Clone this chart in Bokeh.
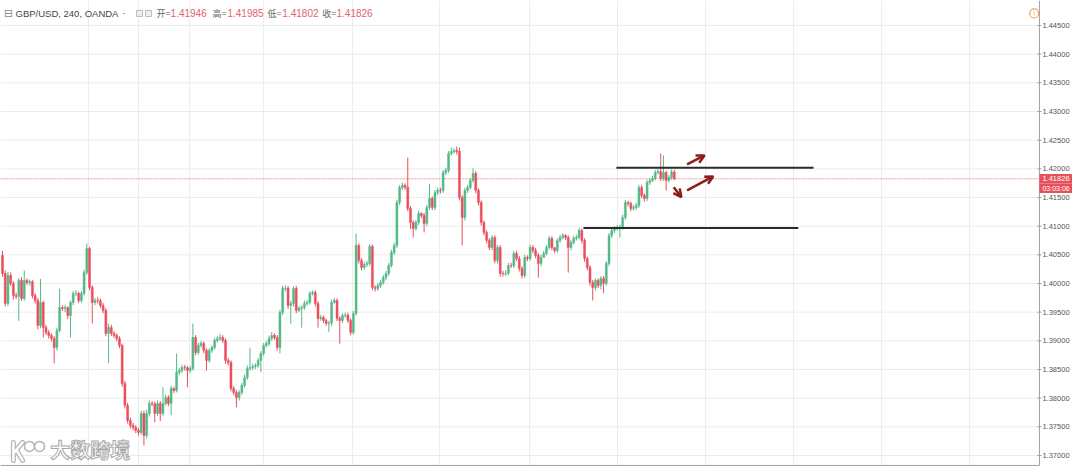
import numpy as np
from bokeh.plotting import figure
from bokeh.models import Range1d, Arrow, OpenHead, ColumnDataSource
from bokeh.core.properties import value
from bokeh.embed import file_html
from bokeh.resources import INLINE

SYMBOL = "GBP/USD, 240, OANDA"
COUNTDOWN = "03:03:06"
WATERMARK = "大数跨境"
OHLC_NAMES = ["开=", "高=", "低=", "收="]

CLOSE = [
    1.40175, 1.39652, 1.40140, 1.40001, 1.39791, 1.39774, 1.40053, 1.39739, 1.40053, 1.40018,
    1.40030, 1.39791, 1.39704, 1.39268, 1.39669, 1.39233, 1.39146, 1.39094, 1.39041, 1.38884,
    1.39181, 1.39582, 1.39565, 1.39580, 1.39442, 1.39669, 1.39826, 1.39830, 1.39704, 1.39826,
    1.40193, 1.40611, 1.39931, 1.39669, 1.39704, 1.39700, 1.39617, 1.39530, 1.39129, 1.39233,
    1.39129, 1.39094, 1.39041, 1.38919, 1.38256, 1.37873, 1.37611, 1.37524, 1.37489, 1.37437,
    1.37402, 1.37733, 1.37349, 1.37733, 1.37908, 1.37900, 1.37733, 1.37908, 1.37733, 1.37908,
    1.38012, 1.37908, 1.38169, 1.38134, 1.38448, 1.38483, 1.38535, 1.38530, 1.38483, 1.38518,
    1.39059, 1.38797, 1.38919, 1.38954, 1.38832, 1.38658, 1.38832, 1.38884, 1.39006, 1.39041,
    1.39059, 1.39006, 1.38658, 1.38623, 1.38169, 1.38099, 1.38012, 1.38099, 1.38222, 1.38361,
    1.38518, 1.38535, 1.38553, 1.38570, 1.38658, 1.38780, 1.38919, 1.38954, 1.39041, 1.39094,
    1.39059, 1.38884, 1.39495, 1.39913, 1.39920, 1.39617, 1.39652, 1.39913, 1.39530, 1.39565,
    1.39582, 1.39652, 1.39669, 1.39826, 1.39844, 1.39652, 1.39390, 1.39408, 1.39355, 1.39303,
    1.39310, 1.39669, 1.39704, 1.39390, 1.39355, 1.39442, 1.39450, 1.39355, 1.39146, 1.39478,
    1.40663, 1.40402, 1.40280, 1.40332, 1.40350, 1.40646, 1.39931, 1.39913, 1.39966, 1.40018,
    1.40105, 1.40175, 1.40315, 1.40541, 1.40663, 1.41413, 1.41675, 1.41710, 1.41680, 1.41309,
    1.41065, 1.40960, 1.41065, 1.41222, 1.41187, 1.41047, 1.41326, 1.41483, 1.41326, 1.41588,
    1.41623, 1.41620, 1.41937, 1.41972, 1.42268, 1.42303, 1.42320, 1.42303, 1.41501, 1.41152,
    1.41623, 1.41675, 1.41797, 1.41919, 1.41623, 1.41413, 1.41065, 1.40890, 1.40751, 1.40629,
    1.40803, 1.40402, 1.40629, 1.40175, 1.40170, 1.40180, 1.40315, 1.40310, 1.40524, 1.40437,
    1.40262, 1.40140, 1.40454, 1.40437, 1.40629, 1.40576, 1.40489, 1.40350, 1.40454, 1.40524,
    1.40629, 1.40786, 1.40629, 1.40576, 1.40751, 1.40803, 1.40838, 1.40803, 1.40629, 1.40716,
    1.40786, 1.40803, 1.40925, 1.40751, 1.40437, 1.40280, 1.40018, 1.39931, 1.40053, 1.39966,
    1.40088, 1.40001, 1.40350, 1.40838, 1.40925, 1.40960, 1.40977, 1.40985, 1.41152, 1.41413,
    1.41396, 1.41309, 1.41326, 1.41361, 1.41675, 1.41536, 1.41483, 1.41762, 1.41797, 1.41832,
    1.41937, 1.41954, 1.41832, 1.41937, 1.41797, 1.41850, 1.41946, 1.41826,
]

OPEN = [
    1.40489, 1.40175, 1.39652, 1.40140, 1.40001, 1.39791, 1.39774, 1.40053, 1.39739, 1.40053,
    1.40018, 1.40030, 1.39791, 1.39704, 1.39268, 1.39669, 1.39233, 1.39146, 1.39094, 1.39041,
    1.38884, 1.39181, 1.39582, 1.39565, 1.39580, 1.39442, 1.39669, 1.39826, 1.39830, 1.39704,
    1.39826, 1.40193, 1.40611, 1.39931, 1.39669, 1.39704, 1.39700, 1.39617, 1.39530, 1.39129,
    1.39233, 1.39129, 1.39094, 1.39041, 1.38919, 1.38256, 1.37873, 1.37611, 1.37524, 1.37489,
    1.37437, 1.37402, 1.37733, 1.37349, 1.37733, 1.37908, 1.37900, 1.37733, 1.37908, 1.37733,
    1.37908, 1.38012, 1.37908, 1.38169, 1.38134, 1.38448, 1.38483, 1.38535, 1.38530, 1.38483,
    1.38518, 1.39059, 1.38797, 1.38919, 1.38954, 1.38832, 1.38658, 1.38832, 1.38884, 1.39006,
    1.39041, 1.39059, 1.39006, 1.38658, 1.38623, 1.38169, 1.38099, 1.38012, 1.38099, 1.38222,
    1.38361, 1.38518, 1.38535, 1.38553, 1.38570, 1.38658, 1.38780, 1.38919, 1.38954, 1.39041,
    1.39094, 1.39059, 1.38884, 1.39495, 1.39913, 1.39920, 1.39617, 1.39652, 1.39913, 1.39530,
    1.39565, 1.39582, 1.39652, 1.39669, 1.39826, 1.39844, 1.39652, 1.39390, 1.39408, 1.39355,
    1.39303, 1.39310, 1.39669, 1.39704, 1.39390, 1.39355, 1.39442, 1.39450, 1.39355, 1.39146,
    1.39478, 1.40663, 1.40402, 1.40280, 1.40332, 1.40350, 1.40646, 1.39931, 1.39913, 1.39966,
    1.40018, 1.40105, 1.40175, 1.40315, 1.40541, 1.40663, 1.41413, 1.41675, 1.41710, 1.41680,
    1.41309, 1.41065, 1.40960, 1.41065, 1.41222, 1.41187, 1.41047, 1.41326, 1.41483, 1.41326,
    1.41588, 1.41623, 1.41620, 1.41937, 1.41972, 1.42268, 1.42303, 1.42320, 1.42303, 1.41501,
    1.41152, 1.41623, 1.41675, 1.41797, 1.41919, 1.41623, 1.41413, 1.41065, 1.40890, 1.40751,
    1.40629, 1.40803, 1.40402, 1.40629, 1.40175, 1.40170, 1.40180, 1.40315, 1.40310, 1.40524,
    1.40437, 1.40262, 1.40140, 1.40454, 1.40437, 1.40629, 1.40576, 1.40489, 1.40350, 1.40454,
    1.40524, 1.40629, 1.40786, 1.40629, 1.40576, 1.40751, 1.40803, 1.40838, 1.40803, 1.40629,
    1.40716, 1.40786, 1.40803, 1.40925, 1.40751, 1.40437, 1.40280, 1.40018, 1.39931, 1.40053,
    1.39966, 1.40088, 1.40001, 1.40350, 1.40838, 1.40925, 1.40960, 1.40977, 1.40985, 1.41152,
    1.41413, 1.41396, 1.41309, 1.41326, 1.41361, 1.41675, 1.41536, 1.41483, 1.41762, 1.41797,
    1.41832, 1.41937, 1.41954, 1.41832, 1.41937, 1.41797, 1.41850, 1.41946,
]

HIGH = [
    1.40570, 1.40230, 1.40200, 1.40190, 1.40040, 1.39840, 1.40090, 1.40110, 1.40230, 1.40090,
    1.40070, 1.40060, 1.39830, 1.39750, 1.40080, 1.39700, 1.39280, 1.39190, 1.39130, 1.39080,
    1.39230, 1.39910, 1.39620, 1.39630, 1.39600, 1.39700, 1.39870, 1.39890, 1.39860, 1.39870,
    1.40240, 1.40698, 1.40640, 1.39970, 1.39750, 1.39760, 1.39740, 1.39660, 1.39570, 1.39300,
    1.39280, 1.39170, 1.39130, 1.39080, 1.38950, 1.38300, 1.37920, 1.37660, 1.37570, 1.37530,
    1.37480, 1.37780, 1.37780, 1.37800, 1.37960, 1.37950, 1.37940, 1.37960, 1.37950, 1.38190,
    1.38060, 1.38050, 1.38220, 1.38200, 1.38780, 1.38530, 1.38580, 1.38580, 1.38560, 1.38560,
    1.39303, 1.39100, 1.38960, 1.39000, 1.38990, 1.38870, 1.38870, 1.38920, 1.39050, 1.39080,
    1.39120, 1.39100, 1.39040, 1.38700, 1.38660, 1.38210, 1.38140, 1.38140, 1.38270, 1.38410,
    1.38570, 1.38880, 1.38600, 1.38610, 1.38700, 1.38820, 1.38960, 1.39000, 1.39090, 1.39150,
    1.39130, 1.39100, 1.39540, 1.39960, 1.39970, 1.39960, 1.39700, 1.39950, 1.39960, 1.39610,
    1.39620, 1.39700, 1.39710, 1.39870, 1.39880, 1.39880, 1.39690, 1.39450, 1.39440, 1.39390,
    1.39350, 1.39720, 1.39750, 1.39740, 1.39430, 1.39480, 1.39490, 1.39490, 1.39390, 1.39520,
    1.40873, 1.40700, 1.40440, 1.40380, 1.40400, 1.40690, 1.40680, 1.39970, 1.40010, 1.40060,
    1.40150, 1.40220, 1.40360, 1.40590, 1.40710, 1.41460, 1.41720, 1.41760, 1.41750, 1.42198,
    1.41350, 1.41100, 1.41110, 1.41270, 1.41240, 1.41230, 1.41370, 1.41740, 1.41520, 1.41630,
    1.41670, 1.41670, 1.41980, 1.42020, 1.42310, 1.42373, 1.42360, 1.42390, 1.42373, 1.41540,
    1.41670, 1.41720, 1.41840, 1.42006, 1.41960, 1.41660, 1.41450, 1.41100, 1.40930, 1.40790,
    1.40840, 1.40840, 1.40670, 1.40670, 1.40220, 1.40230, 1.40360, 1.40360, 1.40570, 1.40570,
    1.40480, 1.40300, 1.40500, 1.40490, 1.40680, 1.40670, 1.40620, 1.40530, 1.40500, 1.40570,
    1.40670, 1.40830, 1.40820, 1.40620, 1.40790, 1.40850, 1.40880, 1.40860, 1.40840, 1.40760,
    1.40830, 1.40850, 1.40970, 1.40960, 1.40790, 1.40470, 1.40320, 1.40060, 1.40090, 1.40090,
    1.40130, 1.40130, 1.40390, 1.40880, 1.40970, 1.41000, 1.41020, 1.41030, 1.41200, 1.41460,
    1.41440, 1.41430, 1.41370, 1.41410, 1.41720, 1.41720, 1.41570, 1.41810, 1.41840, 1.41880,
    1.41980, 1.42000, 1.42268, 1.42233, 1.41970, 1.41890, 1.41990, 1.41985,
]

LOW = [
    1.40120, 1.39600, 1.39610, 1.39960, 1.39720, 1.39730, 1.39350, 1.39700, 1.39700, 1.39980,
    1.39960, 1.39740, 1.39650, 1.39200, 1.39220, 1.39060, 1.39100, 1.39040, 1.38990, 1.38605,
    1.38830, 1.39150, 1.39520, 1.39500, 1.39380, 1.39060, 1.39620, 1.39780, 1.39660, 1.39660,
    1.39790, 1.40150, 1.39880, 1.39300, 1.39620, 1.39650, 1.39570, 1.39480, 1.39080, 1.38610,
    1.39080, 1.39050, 1.38990, 1.38870, 1.38200, 1.37820, 1.37560, 1.37470, 1.37440, 1.37390,
    1.37350, 1.37360, 1.37175, 1.37300, 1.37680, 1.37860, 1.37580, 1.37690, 1.37600, 1.37690,
    1.37870, 1.37860, 1.37700, 1.38090, 1.38100, 1.38400, 1.38440, 1.38480, 1.38190, 1.38440,
    1.38480, 1.38750, 1.38760, 1.38880, 1.38780, 1.38480, 1.38620, 1.38790, 1.38850, 1.38970,
    1.39000, 1.38960, 1.38600, 1.38570, 1.38120, 1.38050, 1.37838, 1.37960, 1.38060, 1.38190,
    1.38320, 1.38480, 1.38490, 1.38510, 1.38530, 1.38450, 1.38740, 1.38880, 1.38910, 1.39000,
    1.39020, 1.38830, 1.38780, 1.39450, 1.39860, 1.39560, 1.39300, 1.39600, 1.39480, 1.39500,
    1.39230, 1.39540, 1.39610, 1.39630, 1.39790, 1.39600, 1.39230, 1.39350, 1.39310, 1.39260,
    1.39150, 1.39260, 1.39650, 1.39340, 1.38950, 1.39310, 1.39400, 1.39310, 1.39100, 1.39110,
    1.39440, 1.40350, 1.40230, 1.40240, 1.40290, 1.40310, 1.39880, 1.39860, 1.39870, 1.39920,
    1.39980, 1.40060, 1.40130, 1.40280, 1.40500, 1.40620, 1.41370, 1.41630, 1.41630, 1.41260,
    1.40950, 1.40800, 1.40920, 1.41020, 1.41140, 1.40890, 1.41000, 1.41280, 1.41280, 1.41280,
    1.41540, 1.41570, 1.41580, 1.41890, 1.41930, 1.42230, 1.42260, 1.42250, 1.41450, 1.40663,
    1.41100, 1.41580, 1.41640, 1.41760, 1.41570, 1.41360, 1.41010, 1.40840, 1.40700, 1.40580,
    1.40580, 1.40350, 1.40350, 1.40120, 1.40120, 1.40130, 1.40140, 1.40270, 1.40270, 1.40390,
    1.40210, 1.40090, 1.40100, 1.40390, 1.40400, 1.40530, 1.40440, 1.40100, 1.40300, 1.40480,
    1.40490, 1.40590, 1.40580, 1.40530, 1.40540, 1.40710, 1.40770, 1.40760, 1.40190, 1.40580,
    1.40680, 1.40750, 1.40770, 1.40700, 1.40380, 1.40230, 1.39960, 1.39704, 1.39880, 1.39920,
    1.39900, 1.39830, 1.39960, 1.40300, 1.40790, 1.40880, 1.40920, 1.40800, 1.40940, 1.41110,
    1.41350, 1.41260, 1.41270, 1.41280, 1.41320, 1.41490, 1.41430, 1.41440, 1.41720, 1.41770,
    1.41800, 1.41900, 1.41790, 1.41790, 1.41620, 1.41760, 1.41810, 1.41802,
]

PRICE_TICKS = [1.370, 1.375, 1.380, 1.385, 1.390, 1.395, 1.400, 1.405,
               1.410, 1.415, 1.420, 1.425, 1.430, 1.435, 1.440, 1.445]
TIME_GRID = [31.6, 50.0, 68.8, 96.0, 128.7, 160.7, 193.8, 226.1, 258.5, 290.8, 323.2, 355.5]

LEVEL_PRICE = [1.4202, 1.4097]
LEVEL_FROM = [225.7, 213.6]
LEVEL_TO = [298.2, 292.6]

ARROW_X0 = [251.7, 251.7, 246.8]
ARROW_Y0 = [1.42076, 1.41623, 1.41680]
ARROW_X1 = [258.1, 261.3, 249.6]
ARROW_Y1 = [1.42233, 1.41867, 1.41506]

assert len(OPEN) == len(HIGH) == len(LOW) == len(CLOSE)

UP = "#53b987"
DOWN = "#eb4d5c"
PRICE_RED = "#e8505d"
ARROW_RED = "#8e1c1c"
AXIS_GRAY = "#a0a0a0"
GRID = "#ececec"

# view (bar index / price) and the price-scale column
X0, X1 = -0.735, 393.4
Y0, Y1 = 1.36808, 1.44936
AXIS_X = 381.25         # price-scale border
BOTTOM_Y = 1.36826      # bottom border
PX_Y = (Y1 - Y0) / 466.0  # price per screen pixel

o = np.array(OPEN)
c = np.array(CLOSE)
h = np.array(HIGH)
l = np.array(LOW)
x = np.arange(len(CLOSE))
colors = np.where(c >= o, UP, DOWN)
src = ColumnDataSource(dict(x=x, top=np.maximum(o, c), bottom=np.minimum(o, c),
                            high=h, low=l, color=colors))

p = figure(width=1072, height=466,
           x_range=Range1d(X0, X1), y_range=Range1d(Y0, Y1),
           toolbar_location=None, output_backend="svg",
           min_border_left=0, min_border_top=0, min_border_bottom=0, min_border_right=0)
p.xaxis.visible = False
p.yaxis.visible = False
p.grid.visible = False
p.outline_line_color = None
p.background_fill_color = "white"
p.border_fill_color = "white"

# grid
p.segment(x0=TIME_GRID, y0=[BOTTOM_Y] * len(TIME_GRID), x1=TIME_GRID, y1=[Y1] * len(TIME_GRID),
          line_color=GRID, line_width=1)
p.segment(x0=[X0] * len(PRICE_TICKS), y0=PRICE_TICKS, x1=[AXIS_X] * len(PRICE_TICKS),
          y1=PRICE_TICKS, line_color=GRID, line_width=1)

# current price line
p.segment(x0=[X0], y0=[CLOSE[-1]], x1=[AXIS_X], y1=[CLOSE[-1]],
          line_color="#f29aa2", line_width=1, line_dash="2 1")

# candles
p.segment(x0="x", y0="high", x1="x", y1="low", line_color="color", line_width=1, source=src)
p.vbar(x="x", width=0.72, top="top", bottom="bottom", fill_color="color",
       line_color="color", line_width=0.5, source=src)

# drawn levels
p.segment(x0=LEVEL_FROM, y0=LEVEL_PRICE, x1=LEVEL_TO, y1=LEVEL_PRICE,
          line_color="#2b2b2b", line_width=2)

# arrows
for xs, ys, xe, ye in zip(ARROW_X0, ARROW_Y0, ARROW_X1, ARROW_Y1):
    p.add_layout(Arrow(end=OpenHead(line_color=ARROW_RED, line_width=2.5, size=8),
                       x_start=xs, y_start=ys, x_end=xe, y_end=ye,
                       line_color=ARROW_RED, line_width=2.5))

# price scale (border, ticks, labels)
p.segment(x0=[AXIS_X], y0=[BOTTOM_Y], x1=[AXIS_X], y1=[Y1], line_color=AXIS_GRAY, line_width=1)
p.segment(x0=[X0], y0=[BOTTOM_Y], x1=[AXIS_X], y1=[BOTTOM_Y], line_color=AXIS_GRAY, line_width=1)
p.segment(x0=[AXIS_X - 0.75] * len(PRICE_TICKS), y0=PRICE_TICKS,
          x1=[AXIS_X + 0.75] * len(PRICE_TICKS), y1=PRICE_TICKS,
          line_color=AXIS_GRAY, line_width=1)
p.text(x=[AXIS_X + 1.1] * len(PRICE_TICKS), y=PRICE_TICKS,
       text=[f"{t:.5f}" for t in PRICE_TICKS], text_font=value("Liberation Sans"),
       text_font_size="7.5px", text_color="#555555", text_baseline="middle")

# last price and countdown boxes
BOX_H = 9.5 * PX_Y
box_mid = [CLOSE[-1], CLOSE[-1] - BOX_H]
p.quad(left=[AXIS_X] * 2, right=[X1] * 2,
       top=[m + BOX_H / 2 for m in box_mid], bottom=[m - BOX_H / 2 for m in box_mid],
       fill_color=PRICE_RED, line_color=None)
p.text(x=[AXIS_X + 1.1], y=[box_mid[0]], text=[f"{CLOSE[-1]:.5f}"],
       text_font=value("Liberation Sans"), text_font_size="7.5px", text_color="white",
       text_baseline="middle")
p.text(x=[AXIS_X + 1.1], y=[box_mid[1]], text=[COUNTDOWN],
       text_font=value("Liberation Sans"), text_font_size="7px", text_color="white",
       text_baseline="middle")

# header legend
HY = 1.44710
p.text(x=[0.55], y=[HY], text=["⊟"], text_font=value("DejaVu Sans"), text_font_size="11px",
       text_color="#8a8a8a", text_baseline="middle")
p.text(x=[4.78], y=[HY], text=[SYMBOL], text_font=value("Liberation Sans"),
       text_font_size="9.5px", text_color="#444444", text_baseline="middle")
p.text(x=[44.1], y=[HY], text=["-"], text_font=value("Liberation Sans"),
       text_font_size="9.5px", text_color="#888888", text_baseline="middle")
p.scatter(x=[50.4, 53.7], y=[HY, HY], marker="square", size=6,
          fill_color="#eeeeee", line_color="#bbbbbb", line_width=1)
p.text(x=[56.6, 77.2, 97.4, 117.6], y=[HY] * 4, text=OHLC_NAMES,
       text_font=value("Noto Sans CJK SC"), text_font_size="9px",
       text_color="#666666", text_baseline="middle")
last_vals = [OPEN[-1], HIGH[-1], LOW[-1], CLOSE[-1]]
p.text(x=[61.8, 82.7, 102.9, 122.8], y=[HY] * 4, text=[f"{v:.5f}" for v in last_vals],
       text_font=value("Liberation Sans"), text_font_size="10px",
       text_color="#e2626e", text_baseline="middle")

# orange alert icon
p.scatter(x=[379.3], y=[HY], marker="circle", size=9, fill_color="white",
          line_color="#f2a65a", line_width=1.2)
p.text(x=[379.3], y=[HY], text=["!"], text_font=value("Liberation Sans"),
       text_font_size="7px", text_color="#f2a65a", text_align="center",
       text_baseline="middle")

# watermark
wm_xs = [[4.0, 4.0], [4.0, 7.4], [5.2, 7.4]]
wm_ys = [[1.37228, 1.36914], [1.37036, 1.37228], [1.37089, 1.36914]]
p.multi_line(xs=wm_xs, ys=wm_ys, line_color="#b4b4b4", line_width=5, line_cap="round")
p.multi_line(xs=wm_xs, ys=wm_ys, line_color="white", line_width=2.5, line_cap="round")
p.scatter(x=[9.9, 13.6], y=[1.37158, 1.37158], marker="circle", size=10,
          fill_color="white", line_color="#b4b4b4", line_width=1.5)
p.text(x=[17.6], y=[1.37105], text=[WATERMARK], text_font=value("Noto Sans CJK SC"),
       text_font_style="bold", text_font_size="20px", text_color="white",
       text_outline_color="#a8a8a8", text_baseline="middle")

open("out.html", "w").write(file_html(p, INLINE))
